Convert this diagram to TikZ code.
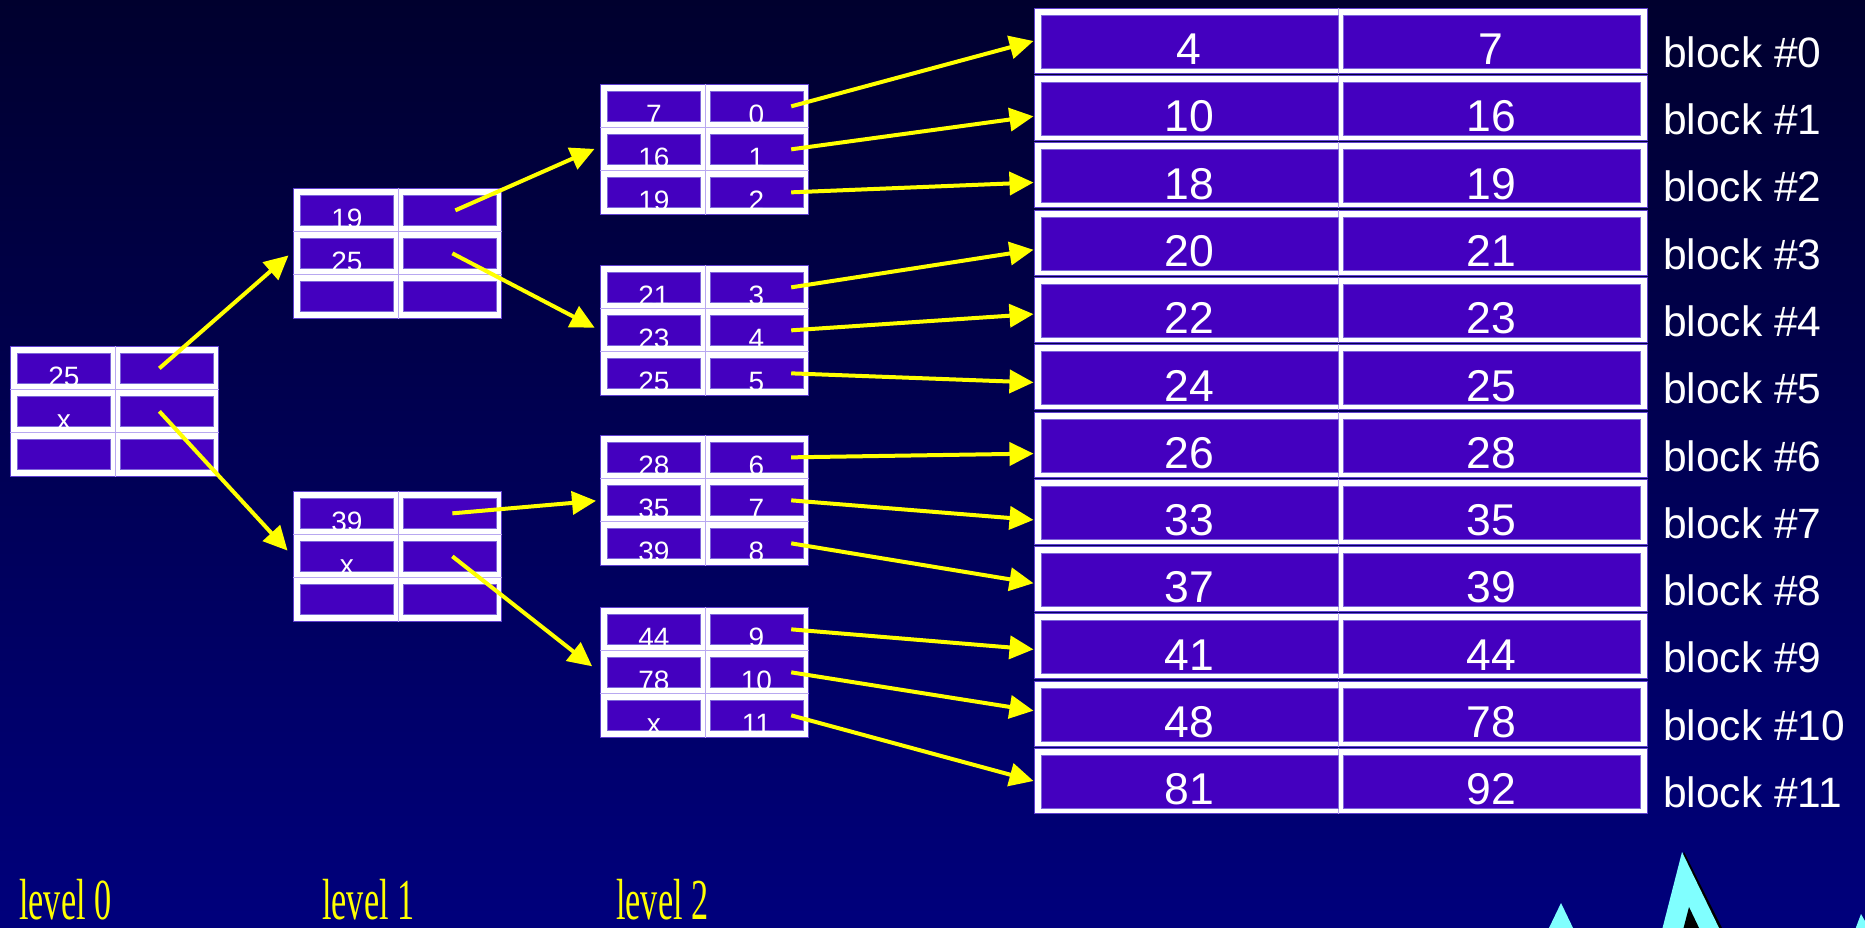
\documentclass[tikz,border=0pt]{standalone}
\usepackage{graphicx}
\usepackage{fontspec}
\setmainfont{Liberation Sans}
\newfontfamily\lvlfont{Liberation Serif}
\usetikzlibrary{arrows.meta}
\definecolor{bgtop}{RGB}{0,0,46}
\definecolor{bgbot}{RGB}{0,0,124}
\definecolor{cellc}{RGB}{68,0,191}
\definecolor{celledge}{RGB}{126,102,218}
\definecolor{boxedge}{RGB}{96,64,208}
\definecolor{sepc}{RGB}{184,168,240}
\definecolor{arrc}{RGB}{255,255,0}
\definecolor{cyanc}{RGB}{128,255,255}
\tikzset{
  obox/.style={draw=boxedge, line width=1pt, fill=white, minimum width=208pt, minimum height=130pt, inner sep=0pt},
  icell/.style={draw=celledge, line width=0.7pt, fill=cellc, minimum width=93pt, minimum height=30pt, inner sep=0pt},
  itxt/.style={anchor=base, inner sep=0pt, text=white, font=\fontsize{28pt}{28pt}\selectfont},
  sepline/.style={draw=sepc, line width=0.8pt},
  bbox/.style={draw=boxedge, line width=1pt, fill=white, minimum width=613pt, minimum height=65pt, inner sep=0pt},
  bcell/.style={draw=celledge, line width=0.7pt, fill=cellc, minimum width=297pt, minimum height=53pt, inner sep=0pt},
  btxt/.style={anchor=base, inner sep=0pt, text=white, font=\fontsize{44.5pt}{44.5pt}\selectfont},
  blabel/.style={anchor=base west, inner sep=0pt, text=white, font=\fontsize{42.5pt}{42.5pt}\selectfont},
  lvl/.style={anchor=base west, inner sep=0pt, text=arrc, font=\lvlfont\fontsize{58pt}{58pt}\selectfont},
  arr/.style={draw=arrc, line width=4pt, -{Triangle[length=24pt,width=23pt]}, arrc},
}
\newcommand\idxnode[9]{%
  \node[obox, anchor=north west] (#1) at (#2,#3) {};
  \draw[sepline] ([yshift=-43pt]#1.north west) -- ([yshift=-43pt]#1.north east);
  \draw[sepline] ([yshift=-86pt]#1.north west) -- ([yshift=-86pt]#1.north east);
  \draw[sepline] ([xshift=105pt]#1.north west) -- ([xshift=105pt]#1.south west);
  \node[icell, anchor=north west] (#1-11) at ([xshift=7pt,yshift=-7pt]#1.north west) {};
  \node[icell, anchor=north west] (#1-12) at ([xshift=109.5pt,yshift=-7pt]#1.north west) {};
  \node[icell, anchor=north west] (#1-21) at ([xshift=7pt,yshift=-50pt]#1.north west) {};
  \node[icell, anchor=north west] (#1-22) at ([xshift=109.5pt,yshift=-50pt]#1.north west) {};
  \node[icell, anchor=north west] (#1-31) at ([xshift=7pt,yshift=-93pt]#1.north west) {};
  \node[icell, anchor=north west] (#1-32) at ([xshift=109.5pt,yshift=-93pt]#1.north west) {};
  \node[itxt] at ([yshift=-3pt]#1-11.south) {#4};
  \node[itxt] at ([yshift=-3pt]#1-12.south) {#5};
  \node[itxt] at ([yshift=-3pt]#1-21.south) {#6};
  \node[itxt] at ([yshift=-3pt]#1-22.south) {#7};
  \node[itxt] at ([yshift=-3pt]#1-31.south) {#8};
  \node[itxt] at ([yshift=-3pt]#1-32.south) {#9};
}
\newcommand\blk[5]{%
  \node[bbox, anchor=north west] (#1) at (1033.5,#2) {};
  \draw[sepline] ([xshift=304.5pt]#1.north west) -- ([xshift=304.5pt]#1.south west);
  \node[bcell, anchor=north west] (#1-1) at ([xshift=7pt,yshift=-7pt]#1.north west) {};
  \node[bcell, anchor=north west] (#1-2) at ([xshift=309pt,yshift=-7pt]#1.north west) {};
  \node[btxt] at ([yshift=4pt]#1-1.south) {#3};
  \node[btxt] at ([yshift=4pt]#1-2.south) {#4};
  \node[blabel] (#1-lab) at (1663,{#2+59.5}) {#5};
}
\begin{document}
\begin{tikzpicture}[x=1pt,y=-1pt]
\useasboundingbox (0,0) rectangle (1865,928);
\shade[top color=bgtop, bottom color=bgbot] (0,0) rectangle (1865,928);

% index nodes
\idxnode{L0}{10}{346}{25}{}{x}{}{}{}
\idxnode{L1a}{293}{188}{19}{}{25}{}{}{}
\idxnode{L1b}{293}{491}{39}{}{x}{}{}{}
\idxnode{L2a}{600}{84}{7}{0}{16}{1}{19}{2}
\idxnode{L2b}{600}{265}{21}{3}{23}{4}{25}{5}
\idxnode{L2c}{600}{435}{28}{6}{35}{7}{39}{8}
\idxnode{L2d}{600}{607}{44}{9}{78}{10}{x}{11}

% data blocks
\blk{b0}{8}{4}{7}{block \#0}
\blk{b1}{75.3}{10}{16}{block \#1}
\blk{b2}{142.5}{18}{19}{block \#2}
\blk{b3}{209.8}{20}{21}{block \#3}
\blk{b4}{277.1}{22}{23}{block \#4}
\blk{b5}{344.4}{24}{25}{block \#5}
\blk{b6}{411.6}{26}{28}{block \#6}
\blk{b7}{478.9}{33}{35}{block \#7}
\blk{b8}{546.2}{37}{39}{block \#8}
\blk{b9}{613.4}{41}{44}{block \#9}
\blk{b10}{680.7}{48}{78}{block \#10}
\blk{b11}{748}{81}{92}{block \#11}

% level labels
\node[lvl] (lv0) at (19,919) {\scalebox{0.59}[1]{level 0}};
\node[lvl] (lv1) at (322,919) {\scalebox{0.59}[1]{level 1}};
\node[lvl] (lv2) at (616,919) {\scalebox{0.59}[1]{level 2}};

% arrows between index nodes
\draw[arr, shorten >=6pt] ([xshift=-7pt]L0-12.center) -- ([yshift=2pt]L1a.west);
\draw[arr, shorten >=8pt] ([xshift=-7pt]L0-22.center) -- (L1b.west);
\draw[arr, shorten >=6pt] ([xshift=6pt]L1a-12.center) -- ([yshift=3pt]L2a.west);
\draw[arr, shorten >=6pt] ([xshift=3pt]L1a-22.center) -- (L2b.west);
\draw[arr, shorten >=4pt] ([xshift=3pt]L1b-12.center) -- (L2c.west);
\draw[arr, shorten >=10pt] ([xshift=3pt]L1b-22.center) -- (L2d.west);

% arrows to data blocks
\draw[arr] ([xshift=-12pt]L2a-12.east) -- (b0.west);
\draw[arr] ([xshift=-12pt]L2a-22.east) -- ([yshift=-8pt]b1.west);
\draw[arr] ([xshift=-12pt]L2a-32.east) -- ([yshift=-7pt]b2.west);
\draw[arr] ([xshift=-12pt]L2b-12.east) -- ([yshift=-7pt]b3.west);
\draw[arr] ([xshift=-12pt]L2b-22.east) -- ([yshift=-4pt]b4.west);
\draw[arr] ([xshift=-12pt]L2b-32.east) -- ([yshift=-5pt]b5.west);
\draw[arr] ([xshift=-12pt]L2c-12.east) -- ([yshift=-9pt]b6.west);
\draw[arr] ([xshift=-12pt]L2c-22.east) -- ([yshift=-8pt]b7.west);
\draw[arr] ([xshift=-12pt]L2c-32.east) -- ([yshift=-4pt]b8.west);
\draw[arr] ([xshift=-12pt]L2d-12.east) -- ([yshift=-3pt]b9.west);
\draw[arr] ([xshift=-12pt]L2d-22.east) -- ([yshift=3pt]b10.west);
\draw[arr] ([xshift=-12pt]L2d-32.east) -- (b11.west);

% decorative triangles at the bottom right
\begin{scope}
\clip (0,0) rectangle (1865,928);
\fill[black] (1684,852) -- (1664,930) -- (1723,930) -- cycle;
\fill[cyanc] (1682,852) -- (1662,930) -- (1720,930) -- cycle;
\fill[black] (1689,907) -- (1683,930) -- (1700,930) -- cycle;
\fill[cyanc] (1561,903) -- (1548,930) -- (1574,930) -- cycle;
\fill[cyanc] (1861,914) -- (1855,930) -- (1870,930) -- cycle;
\end{scope}
\end{tikzpicture}
\end{document}
